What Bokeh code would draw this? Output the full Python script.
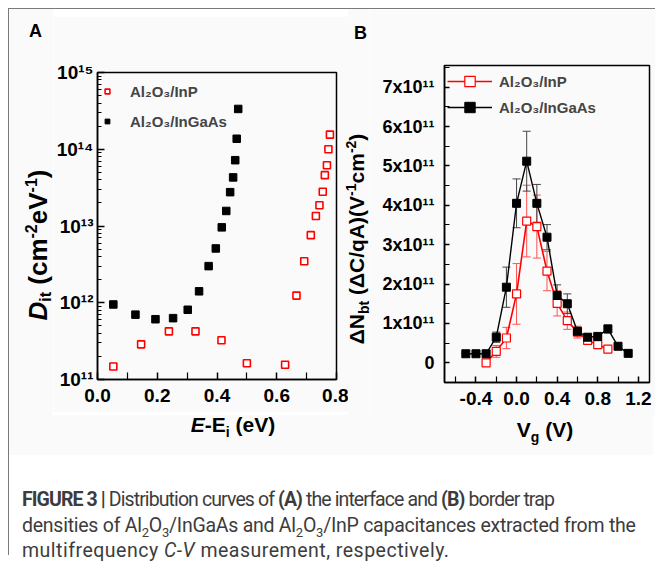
import math
from bokeh.plotting import figure
from bokeh.models import (FixedTicker, LogTicker, Whisker, TeeHead, ColumnDataSource,
                          PrintfTickFormatter, Range1d, Div, CustomJSTickFormatter)
from bokeh.layouts import row, column
from bokeh.embed import file_html
from bokeh.resources import INLINE

FONT = "Liberation Sans"
BG = "#fafafa"

# ---------------- Panel A data ----------------
a_inp_x = [0.053, 0.146, 0.239, 0.328, 0.415, 0.500, 0.628, 0.666, 0.692, 0.714,
           0.731, 0.743, 0.754, 0.761, 0.768, 0.773, 0.778]
a_inp_y = [1.48e11, 2.87e11, 4.24e11, 4.24e11, 3.24e11, 1.63e11, 1.56e11, 1.24e12,
           3.48e12, 7.6e12, 1.35e13, 1.86e13, 2.8e13, 4.6e13, 6.2e13, 1.0e14, 1.55e14]
a_ingaas_x = [0.053, 0.127, 0.194, 0.253, 0.302, 0.340, 0.372, 0.396, 0.416, 0.431,
              0.444, 0.454, 0.461, 0.466, 0.471]
a_ingaas_y = [9.5e11, 7.0e11, 6.1e11, 6.3e11, 8.1e11, 1.41e12, 3.0e12, 5.1e12, 9.6e12,
              1.57e13, 2.76e13, 4.3e13, 7.2e13, 1.37e14, 3.35e14]
a_xticks = [0.0, 0.2, 0.4, 0.6, 0.8]
a_xminor = [0.1, 0.3, 0.5, 0.7]

# ---------------- Panel B data ----------------
b_vg_inp = [-0.3, -0.2, -0.1, 0.0, 0.1, 0.2, 0.3, 0.4, 0.5, 0.6, 0.7, 0.8, 0.9]
b_inp = [0.0, 0.29, 0.63, 1.75, 3.60, 3.46, 2.33, 1.51, 1.07, 0.78, 0.57, 0.46, 0.35]
b_inp_err = [0.05, 0.15, 0.27, 0.77, 0.91, 0.80, 0.50, 0.32, 0.22, 0.15, 0.10, 0.06, 0.05]
b_vg_ingaas = [-0.5, -0.4, -0.3, -0.2, -0.1, 0.0, 0.1, 0.2, 0.3, 0.4, 0.5, 0.6, 0.7,
               0.8, 0.9, 1.0, 1.1]
b_ingaas = [0.23, 0.23, 0.23, 0.65, 1.92, 4.05, 5.12, 4.05, 3.19, 1.71, 1.50, 0.80,
            0.65, 0.67, 0.86, 0.42, 0.24]
b_ingaas_err = [0.0, 0.0, 0.03, 0.13, 0.51, 0.62, 0.76, 0.48, 0.32, 0.27, 0.25, 0.10,
                0.08, 0.05, 0.10, 0.03, 0.03]
b_scale = 1e11
b_xticks = [-0.4, 0.0, 0.4, 0.8, 1.2]
b_xminor = [-0.6, -0.2, 0.2, 0.6, 1.0]
b_yticks = [0, 1, 2, 3, 4, 5, 6, 7]
b_yminor = [-0.5, 0.5, 1.5, 2.5, 3.5, 4.5, 5.5, 6.5, 7.5]

SUP_JS = ("const sup={'0':'\u2070','1':'\u00b9','2':'\u00b2','3':'\u00b3','4':'\u2074',"
          "'5':'\u2075','6':'\u2076','7':'\u2077','8':'\u2078','9':'\u2079'};")


def style_common(p):
    p.xgrid.visible = False
    p.ygrid.visible = False
    p.background_fill_color = BG
    p.border_fill_color = BG
    p.outline_line_color = "black"
    p.outline_line_alpha = 1.0
    p.outline_line_width = 1.5
    for ax in (p.xaxis[0], p.yaxis[0]):
        ax.axis_line_width = 1.5
        ax.axis_line_color = "black"
        ax.major_tick_out = 0
        ax.minor_tick_out = 0
        ax.major_tick_line_width = 1.5
        ax.minor_tick_line_width = 1.2
        ax.major_tick_line_color = "black"
        ax.minor_tick_line_color = "black"
        ax.major_label_text_font = FONT
        ax.major_label_text_font_style = "bold"
        ax.major_label_text_color = "black"


# ================= Panel A =================
pA = figure(frame_width=239, frame_height=307, x_range=Range1d(0, 0.8),
            y_range=Range1d(1e11, 1e15), y_axis_type="log",
            output_backend="svg", toolbar_location=None,
            min_border_left=42, min_border_right=12, min_border_top=56,
            min_border_bottom=33, margin=(7, 0, 0, 0))
style_common(pA)
xa = pA.xaxis[0]
xa.ticker = FixedTicker(ticks=a_xticks, minor_ticks=a_xminor)
xa.formatter = PrintfTickFormatter(format="%.1f")
xa.major_label_text_font_size = "19px"
xa.major_tick_in = 7
xa.minor_tick_in = 7
xa.major_label_standoff = 9
ya = pA.yaxis[0]
ya.ticker = LogTicker(mantissas=[1], num_minor_ticks=10)
ya.formatter = CustomJSTickFormatter(
    code=SUP_JS + "const e=Math.round(Math.log10(tick));"
                  "return '10'+String(e).split('').map(c=>sup[c]).join('');")
ya.major_label_text_font_size = "19px"
ya.major_label_standoff = 4
ya.major_tick_in = 7
ya.minor_tick_in = 4

pA.scatter(a_inp_x, a_inp_y, marker="square", size=7, line_color="#ff0000",
           fill_color="white", line_width=1.6, legend_label="Al₂O₃/InP")
pA.scatter(a_ingaas_x, a_ingaas_y, marker="square", size=7.5, line_color="black",
           fill_color="black", legend_label="Al₂O₃/InGaAs")

leg = pA.legend[0]
leg.location = "top_left"
leg.margin = 4
leg.padding = 0
leg.glyph_width = 12
leg.glyph_height = 30
leg.label_height = 30
leg.spacing = 0
leg.label_standoff = 17
leg.label_text_font = FONT
leg.label_text_font_size = "15px"
leg.label_text_font_style = "bold"
leg.border_line_color = None
leg.background_fill_alpha = 0

# ================= Panel B =================
pB = figure(frame_width=205, frame_height=317, x_range=Range1d(-0.71, 1.31),
            y_range=Range1d(-0.5 * b_scale, 7.55 * b_scale),
            output_backend="svg", toolbar_location=None,
            min_border_left=75, min_border_right=6, min_border_top=56,
            min_border_bottom=33)
style_common(pB)
xb = pB.xaxis[0]
xb.ticker = FixedTicker(ticks=b_xticks, minor_ticks=b_xminor)
xb.formatter = PrintfTickFormatter(format="%.1f")
xb.major_label_text_font_size = "19px"
xb.major_tick_in = 6
xb.minor_tick_in = 6
xb.major_label_standoff = 9
yb = pB.yaxis[0]
yb.ticker = FixedTicker(ticks=[v * b_scale for v in b_yticks],
                        minor_ticks=[v * b_scale for v in b_yminor])
yb.formatter = CustomJSTickFormatter(
    code="if (Math.abs(tick) < 1e9) {return '0';}"
         "return Math.round(tick/1e11) + 'x10\u00b9\u00b9';")
yb.major_label_text_font_size = "18px"
yb.major_label_standoff = 10
yb.major_tick_in = 5
yb.minor_tick_in = 5

src_inp = ColumnDataSource(dict(
    x=b_vg_inp, y=[v * b_scale for v in b_inp],
    lo=[(v - e) * b_scale for v, e in zip(b_inp, b_inp_err)],
    hi=[(v + e) * b_scale for v, e in zip(b_inp, b_inp_err)]))
src_ing = ColumnDataSource(dict(
    x=b_vg_ingaas, y=[v * b_scale for v in b_ingaas],
    lo=[(v - e) * b_scale for v, e in zip(b_ingaas, b_ingaas_err)],
    hi=[(v + e) * b_scale for v, e in zip(b_ingaas, b_ingaas_err)]))

RED_ERR = "#ff5050"
BLK_ERR = "#444444"
pB.add_layout(Whisker(source=src_inp, base="x", upper="hi", lower="lo",
                      line_color=RED_ERR, line_width=1,
                      upper_head=TeeHead(size=8, line_color=RED_ERR, line_width=1),
                      lower_head=TeeHead(size=8, line_color=RED_ERR, line_width=1)))
pB.line("x", "y", source=src_inp, line_color="#ff0000", line_width=1.6,
        legend_label="Al₂O₃/InP")
pB.scatter("x", "y", source=src_inp, marker="square", size=8, line_color="#ff0000",
           fill_color="white", line_width=1.2, legend_label="Al₂O₃/InP")
pB.add_layout(Whisker(source=src_ing, base="x", upper="hi", lower="lo",
                      line_color=BLK_ERR, line_width=1,
                      upper_head=TeeHead(size=8, line_color=BLK_ERR, line_width=1),
                      lower_head=TeeHead(size=8, line_color=BLK_ERR, line_width=1)))
pB.line("x", "y", source=src_ing, line_color="black", line_width=1.4,
        legend_label="Al₂O₃/InGaAs")
pB.scatter("x", "y", source=src_ing, marker="square", size=8, line_color="black",
           fill_color="black", legend_label="Al₂O₃/InGaAs")

lg = pB.legend[0]
lg.location = "top_left"
lg.margin = 3
lg.padding = 0
lg.glyph_width = 45
lg.glyph_height = 26
lg.label_height = 26
lg.spacing = 0
lg.label_standoff = 7
lg.label_text_font = FONT
lg.label_text_font_size = "15px"
lg.label_text_font_style = "bold"
lg.border_line_color = None
lg.background_fill_alpha = 0

# ================= rich-text labels (HTML) =================
TXT = (f"font-family:'{FONT}',sans-serif;font-weight:bold;color:#000;"
       "white-space:nowrap;position:absolute;")


def sub(t, fs, dy):
    return f'<span style="font-size:{fs}px;position:relative;top:{dy}px">{t}</span>'


def box(w, h, inner, bg=BG):
    return Div(text=f'<div style="position:relative;width:{w}px;height:{h}px;'
                    f'background:{bg};overflow:visible">{inner}</div>',
               width=w, height=h, margin=0)


ROW_H = 406
ylabA = (f'<div style="{TXT}left:31px;top:236px;font-size:26px;line-height:26px;'
         'transform:translate(-50%,-50%) rotate(-90deg);">'
         f'<i>D</i>{sub("it", 16, 4)} (cm{sub("-2", 16, -10)}eV{sub("-1", 16, -10)})</div>')
letA = f'<div style="{TXT}left:20px;top:13px;font-size:18px;line-height:18px;">A</div>'
dAy = box(44, ROW_H, letA + ylabA)

ylabB = (f'<div style="{TXT}left:10px;top:230px;font-size:21px;line-height:21px;'
         'transform:translate(-50%,-50%) rotate(-90deg);">'
         f'&Delta;N{sub("bt", 14, 5)} (&Delta;C/qA)(V{sub("-1", 14, -8)}cm{sub("-2", 14, -8)})</div>')
letB = f'<div style="{TXT}left:6px;top:15px;font-size:18px;line-height:18px;">B</div>'
dBy = box(21, ROW_H, letB + ylabB)

xlabA = (f'<div style="{TXT}left:224px;top:-1px;font-size:21px;line-height:21px;'
         'transform:translate(-50%,0);">'
         f'<i>E</i>-E{sub("i", 14, 5)} (eV)</div>')
xlabB = (f'<div style="{TXT}left:536px;top:4px;font-size:21px;line-height:21px;'
         'transform:translate(-50%,0);">'
         f'V{sub("g", 14, 5)} (V)</div>')
SUBC = '<sub style="font-size:13px;line-height:0">'
CAPL = ('position:absolute;left:13px;font-family:Roboto,sans-serif;font-size:19.5px;'
        'line-height:25.5px;color:#3c3c3c;white-space:nowrap;')
caption = (
    f'<div style="{CAPL}top:72px;letter-spacing:-0.9px;">'
    '<b>FIGURE 3 |</b> Distribution curves of <b>(A)</b> the interface and '
    '<b>(B)</b> border trap</div>'
    f'<div style="{CAPL}top:97.5px;letter-spacing:-0.25px;">'
    f'densities of Al{SUBC}2</sub>O{SUBC}3</sub>/InGaAs and '
    f'Al{SUBC}2</sub>O{SUBC}3</sub>/InP capacitances extracted from the</div>'
    f'<div style="{CAPL}top:123px;letter-spacing:0.5px;">'
    'multifrequency <i>C-V</i> measurement, respectively.</div>')
bottom = Div(text=f'<div style="position:relative;width:644px;height:140px;">'
                  f'<div style="position:absolute;left:0;top:0;width:644px;height:40px;'
                  f'background:{BG}"></div>{xlabA}{xlabB}{caption}</div>',
             width=644, height=140, margin=0)

layout = column(row(dAy, pA, dBy, pB), bottom, margin=(8, 0, 0, 8),
                styles={"border-left": "1px solid #7a7a7a",
                        "border-top": "1px solid #7a7a7a"})

open("out.html", "w").write(file_html(layout, INLINE))
